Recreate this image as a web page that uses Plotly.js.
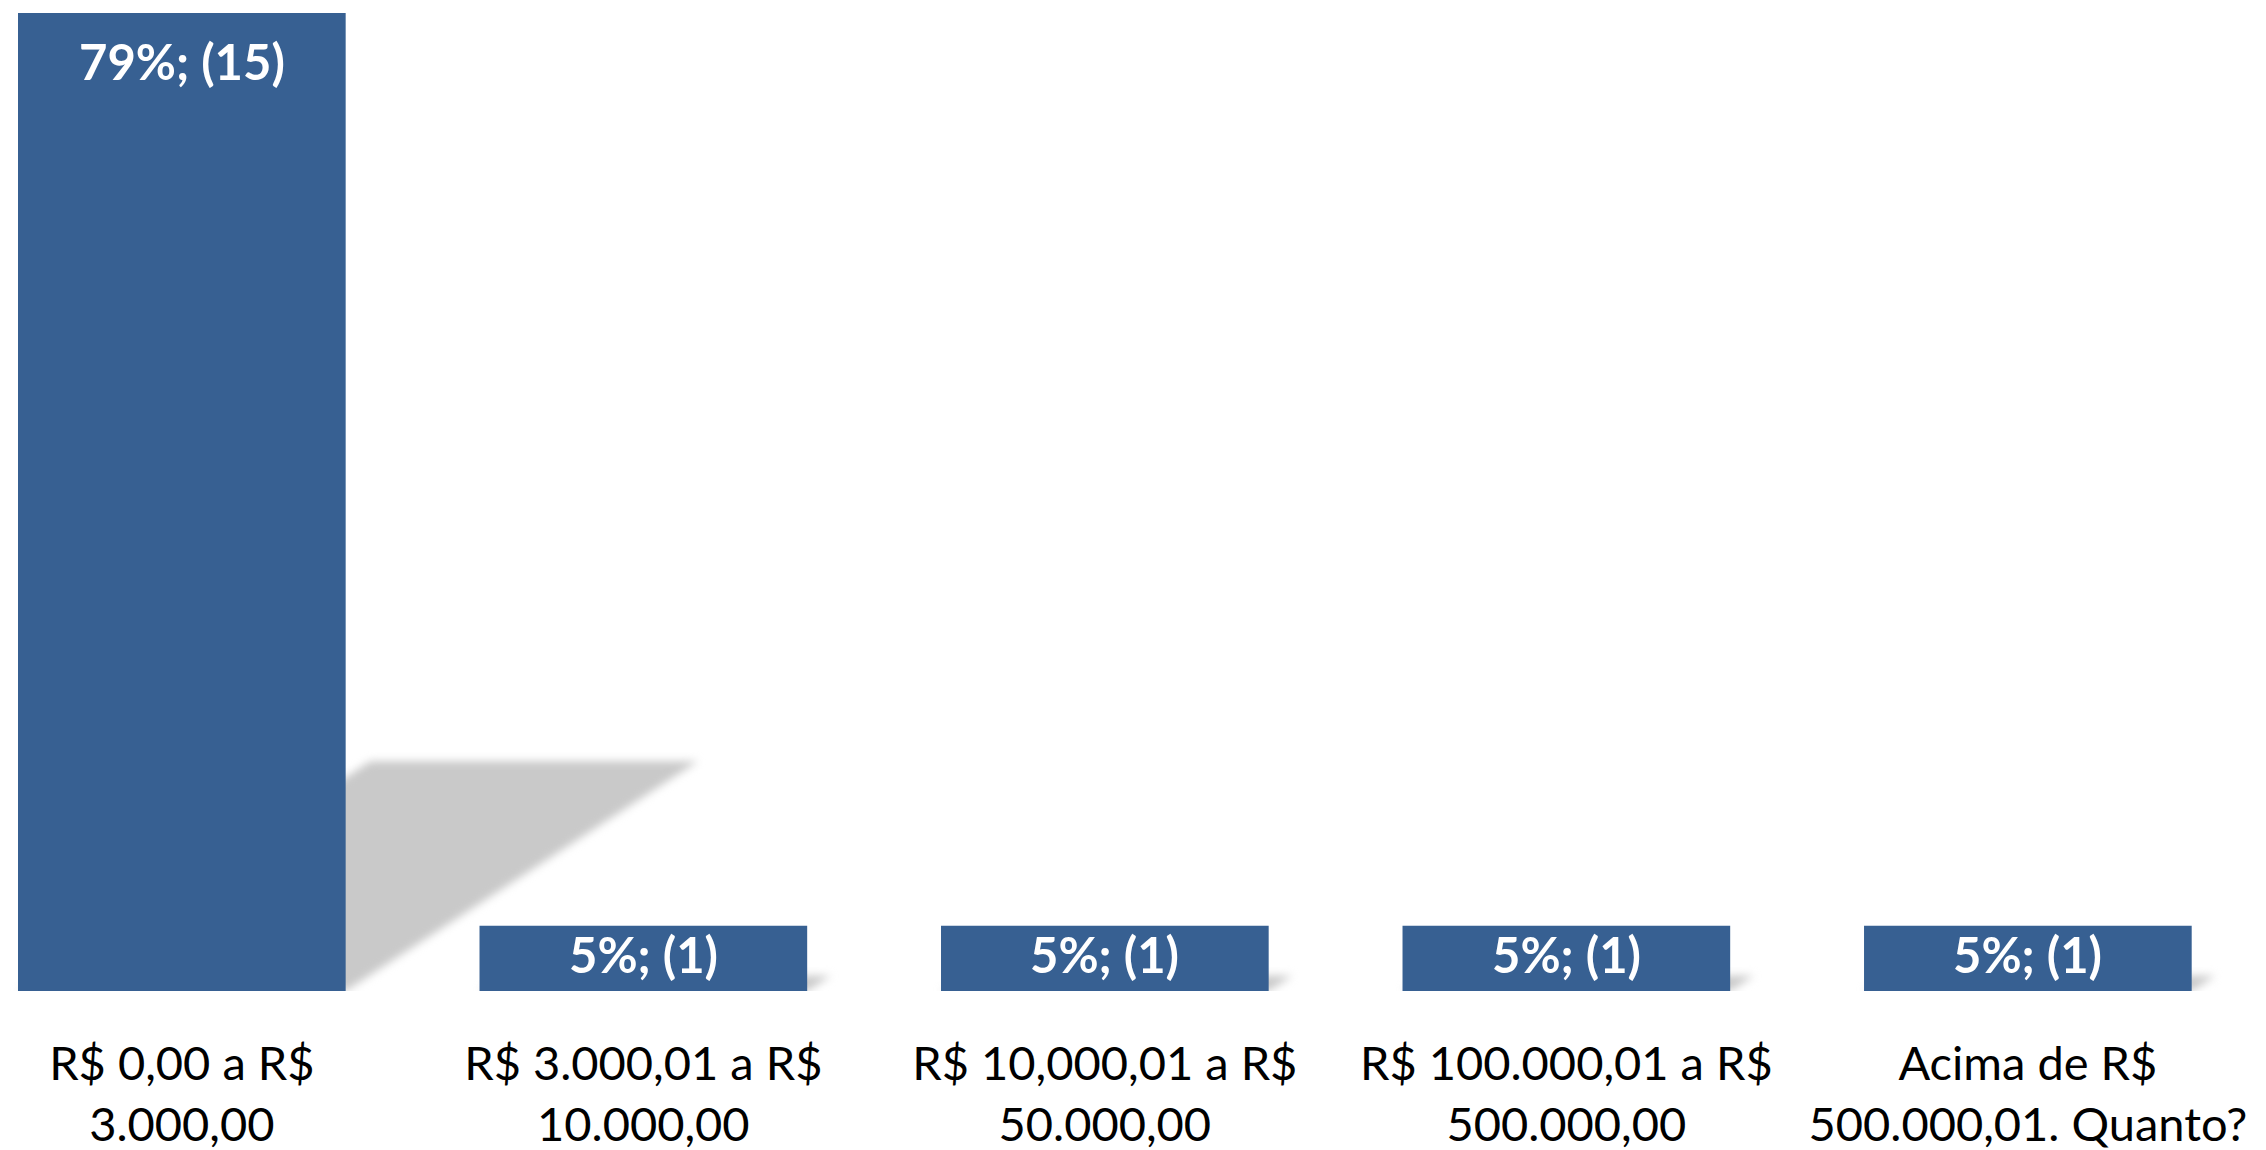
<!DOCTYPE html>
<html>
<head>
<meta charset="utf-8">
<script src="https://cdn.plot.ly/plotly-3.0.1.min.js"></script>
<style>
  html, body { margin: 0; padding: 0; background: #ffffff; }
  #chart { width: 2266px; height: 1150px; }
  .shapelayer path { filter: blur(4px); }
</style>
</head>
<body>
<div id="chart"></div>
<script>
// ---- data ----
const categories = [
  "R$ 0,00 a R$<br>3.000,00",
  "R$ 3.000,01 a R$<br>10.000,00",
  "R$ 10,000,01 a R$<br>50.000,00",
  "R$ 100.000,01 a R$<br>500.000,00",
  "Acima de R$<br>500.000,01. Quanto?"
];
const counts = [15, 1, 1, 1, 1];
const percents = [79, 5, 5, 5, 5];

// ---- derived ----
const xs = categories.map((_, i) => i);
const labels = counts.map((c, i) => percents[i] + "%; (" + c + ")");
const barWidth = 0.71;
const barColor = "#376092";

// decorative drop shadow (skewed), computed from each bar's value
const shadowHeightRatio = 0.235;   // y units per y unit of bar
const shadowSkew = 0.0509;         // x units per y unit of bar
const shapes = counts.map((h, i) => {
  const xl = xs[i] - barWidth / 2, xr = xs[i] + barWidth / 2;
  const s = h * shadowHeightRatio, d = h * shadowSkew;
  return {
    type: "path", layer: "below", xref: "x", yref: "y",
    path: `M ${xl},0 L ${xr},0 L ${xr + d},${s} L ${xl + d},${s} Z`,
    fillcolor: "#c9c9c9", line: { width: 0 }
  };
});

const bars = {
  type: "bar", x: xs, y: counts, width: barWidth,
  marker: { color: barColor, line: { width: 0 } },
  hoverinfo: "skip", showlegend: false
};

const annotations = counts.map((h, i) => ({
  x: xs[i], y: h, xref: "x", yref: "y",
  text: "<b>" + labels[i] + "</b>", showarrow: false,
  yanchor: "top", yshift: h > 3 ? -17 : 3,
  font: { family: "Lato, 'Open Sans', sans-serif", size: 49, color: "#ffffff" }
}));

const layout = {
  width: 2266, height: 1150,
  margin: { l: 0, r: 0, t: 0, b: 159 },
  paper_bgcolor: "#ffffff", plot_bgcolor: "#ffffff",
  showlegend: false,
  xaxis: {
    type: "linear", range: [-0.394, 4.516],
    tickmode: "array", tickvals: xs, ticktext: categories,
    showgrid: false, zeroline: false, showline: false, ticks: "",
    ticklabelstandoff: 41,
    tickfont: { family: "Lato, 'Open Sans', sans-serif", size: 47, color: "#000000" }
  },
  yaxis: {
    range: [0, 15.2], visible: false, showgrid: false, zeroline: false
  },
  shapes: shapes,
  annotations: annotations
};

Plotly.newPlot("chart", [bars], layout, { displayModeBar: false, staticPlot: true });
</script>
</body>
</html>
